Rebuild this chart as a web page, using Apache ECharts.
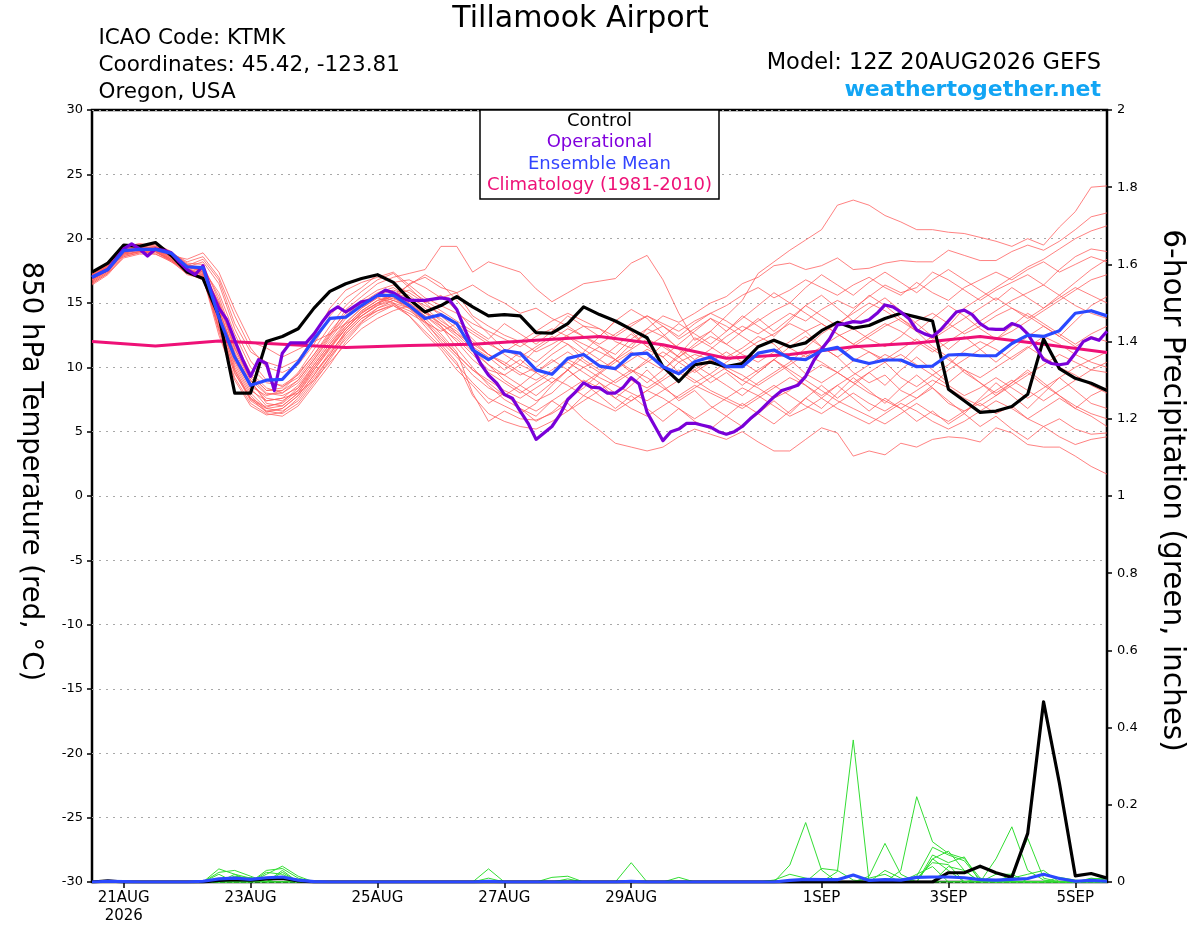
<!DOCTYPE html>
<html>
<head>
<meta charset="utf-8">
<title>Tillamook Airport</title>
<script src="https://cdn.jsdelivr.net/npm/echarts@6.0.0/dist/echarts.min.js"></script>
<style>
html, body { margin: 0; padding: 0; background: #fff; }
#main { width: 1200px; height: 927px; }
</style>
</head>
<body>
<div id="main"></div>
<script>
// hours after 12Z 20AUG2026, one value every 6 h (operational every 3 h, climatology daily)
var tickHours = [12, 60, 108, 156, 204, 276, 324, 372];
var tickLabels = ['21AUG\n2026', '23AUG', '25AUG', '27AUG', '29AUG', '1SEP', '3SEP', '5SEP'];

// 850 hPa temperature, deg C
var controlT = [17.4,18.1,19.5,19.4,19.7,18.7,17.4,16.9,
  14.0,8.0,8.0,12.0,12.4,13.0,14.6,15.9,
  16.5,16.9,17.2,16.6,15.3,14.3,14.8,15.5,
  14.7,14.0,14.1,14.0,12.7,12.65,13.4,14.7,
  14.1,13.6,12.95,12.3,10.05,8.9,10.2,10.4,
  10.05,10.3,11.6,12.1,11.6,11.9,12.85,13.5,
  13.05,13.25,13.8,14.2,13.9,13.6,8.3,7.4,
  6.5,6.6,6.95,7.9,12.2,9.9,9.15,8.76,
  8.2];

var operationalT = [17.0,17.3,17.6,18.4,19.2,19.6,19.2,18.65,
  19.2,19.1,18.9,18.2,17.6,17.2,17.9,16.0,
  14.6,13.7,12.1,10.6,9.3,10.6,10.3,8.2,
  11.1,11.9,11.9,11.9,12.6,13.5,14.3,14.7,
  14.3,14.7,15.1,15.2,15.6,16.0,15.8,15.4,
  15.2,15.2,15.2,15.3,15.4,15.3,14.5,13.0,
  11.5,10.3,9.4,8.8,7.9,7.6,6.6,5.65,
  4.4,4.9,5.4,6.3,7.5,8.1,8.8,8.45,
  8.4,8.0,8.0,8.45,9.2,8.7,6.5,5.4,
  4.3,5.0,5.2,5.65,5.65,5.5,5.35,5.0,
  4.8,5.0,5.4,6.0,6.5,7.1,7.7,8.2,
  8.4,8.6,9.3,10.5,11.4,12.2,13.3,13.4,
  13.55,13.5,13.7,14.2,14.85,14.7,14.3,13.8,
  12.9,12.6,12.4,12.9,13.6,14.3,14.45,14.1,
  13.4,13.0,12.95,12.95,13.4,13.2,12.6,11.6,
  10.6,10.3,10.2,10.3,11.1,12.0,12.3,12.1,
  12.8];

var meanT = [17.0,17.6,19.07,19.17,19.17,18.86,17.8,17.75,
  13.9,10.8,8.6,9.0,9.07,10.4,12.2,13.8,
  13.9,14.8,15.6,15.6,14.8,13.8,14.1,13.4,
  11.35,10.6,11.3,11.1,9.8,9.46,10.7,11.0,
  10.1,9.9,11.0,11.1,10.05,9.5,10.44,10.8,
  10.05,10.05,11.1,11.35,10.7,10.6,11.3,11.55,
  10.6,10.3,10.57,10.57,10.05,10.1,10.96,11.0,
  10.9,10.9,11.85,12.5,12.4,12.85,14.2,14.4,
  14.0];

var climatologyT = [12.0,11.65,12.05,11.8,11.55,11.7,11.8,12.1,12.4,
  11.75,10.7,11.0,11.6,11.9,12.4,11.8,11.15];

var memberT = [
 [16.8,17.6,18.8,19.0,19.1,18.5,17.8,18.2, 16.5,13.0,10.5,9.0,8.5,9.2,10.8,12.5,
  14.5,15.5,16.5,17.0,17.3,17.6,19.4,19.4, 17.4,18.2,17.8,17.4,16.1,15.1,15.8,16.5,
  16.7,16.9,18.1,18.7,16.8,14.2,12.1,12.8, 14.0,15.2,17.3,18.2,19.1,19.9,20.7,22.6,
  23.0,22.6,21.8,21.3,20.7,20.7,20.5,20.4, 20.1,19.8,19.4,20.0,19.5,20.9,22.1,24.0, 24.1],
 [17.2,18.0,19.2,19.4,19.0,18.3,17.5,17.0, 14.0,10.5,8.5,7.8,8.2,9.5,11.0,12.8,
  14.2,15.0,15.6,15.2,16.5,17.0,16.2,15.8, 14.0,13.2,12.5,12.0,11.2,11.8,12.5,13.2,
  13.0,12.0,11.5,13.0,14.0,13.5,14.2,15.0, 15.5,16.5,17.0,17.9,18.1,17.6,17.9,18.5,
  17.6,17.7,18.1,18.3,18.2,18.2,19.1,18.7, 18.3,18.3,19.0,19.5,19.1,19.8,20.7,21.7, 22.0],
 [16.6,17.4,18.9,19.1,19.3,18.8,18.0,17.4, 15.0,11.5,9.0,7.2,7.0,8.0,9.8,11.5,
  13.0,14.3,15.0,15.6,15.2,14.4,13.2,11.5, 10.0,8.6,7.5,6.8,5.8,6.5,7.6,8.4,
  9.5,10.4,11.2,10.5,9.8,11.0,12.3,11.6, 10.8,11.5,12.4,11.8,10.6,9.5,8.8,9.6,
  10.5,11.2,10.4,9.2,8.5,9.4,10.2,11.3, 12.0,11.4,10.6,11.5,12.4,11.8,11.0,10.4, 10.0],
 [16.9,17.7,18.7,19.0,18.9,18.4,17.3,16.8, 13.5,10.2,8.0,6.8,6.6,7.4,9.0,10.8,
  12.2,13.5,14.6,15.0,14.6,13.8,12.6,11.2, 8.0,5.8,6.6,6.0,5.9,6.4,7.2,6.0,
  5.1,4.1,3.8,3.5,3.8,4.6,5.2,4.8, 4.4,5.0,4.2,3.5,3.5,4.4,5.3,4.9,
  3.1,3.5,3.2,4.1,3.8,4.4,4.6,4.5, 4.2,5.3,4.9,4.0,3.8,3.8,3.1,2.3, 1.7],
 [17.3,18.2,19.4,19.6,19.5,18.9,18.2,18.6, 17.0,14.0,11.5,10.0,9.6,10.2,11.8,14.0,
  15.4,16.2,17.2,16.6,16.8,16.2,15.4,15.8, 16.4,15.6,15.0,14.2,14.6,13.8,13.2,12.4,
  11.6,11.0,12.2,13.0,12.4,11.5,10.6,11.4, 12.4,13.2,12.6,13.4,14.2,13.6,14.5,15.2,
  14.6,15.5,16.4,15.8,16.2,17.4,16.8,16.0, 15.2,16.0,16.6,17.2,16.4,17.6,18.6,19.2, 19.0],
 [16.7,17.5,19.1,19.3,19.0,18.2,17.6,17.2, 13.0,9.5,7.6,6.5,6.8,7.8,9.4,11.2,
  12.6,13.8,14.4,14.8,14.2,13.5,12.8,13.4, 12.2,11.0,10.2,9.4,10.0,11.0,11.8,11.0,
  10.2,9.8,10.6,11.4,10.8,9.6,8.8,9.5, 10.4,11.2,12.0,12.6,13.4,12.8,11.6,10.8,
  9.6,8.8,9.4,8.2,7.6,8.4,7.2,6.6, 7.2,6.4,7.0,6.0,5.4,6.0,5.2,4.8, 4.9],
 [17.1,17.9,18.6,18.9,19.0,18.7,18.4,18.9, 17.4,14.5,12.0,11.5,10.8,11.4,12.0,12.6,
  13.4,14.0,14.9,15.6,16.4,17.2,16.5,15.2, 13.8,12.6,11.4,10.8,11.6,12.4,11.8,10.6,
  9.8,10.6,11.8,12.6,13.2,12.2,13.0,13.8, 13.2,12.4,11.6,12.2,11.5,10.8,11.6,12.4,
  13.0,12.2,11.6,12.4,13.6,14.2,13.4,12.6, 13.2,14.0,14.6,14.0,13.2,12.4,13.6,14.8, 15.5],
 [16.5,17.3,18.5,18.8,18.8,18.3,17.4,17.0, 12.5,9.2,7.2,6.4,6.2,7.0,8.6,10.2,
  12.0,13.4,14.2,14.8,14.0,12.8,11.6,10.2, 8.8,7.6,7.0,6.4,7.2,8.6,9.8,11.2,
  12.4,13.6,14.5,13.8,12.6,11.4,10.2,9.4, 8.6,7.8,8.8,9.6,10.4,11.5,12.6,13.4,
  14.2,15.0,14.4,13.6,12.8,11.6,10.8,9.6, 8.8,8.0,8.8,9.6,8.6,7.8,7.0,6.4, 6.0],
 [17.0,17.8,19.0,19.2,19.4,18.8,17.9,17.8, 15.5,12.0,9.6,8.4,8.0,8.8,10.4,12.0,
  13.5,14.6,15.4,15.8,15.0,14.2,13.8,12.6, 11.4,10.2,9.0,8.2,7.4,8.0,9.2,10.0,
  10.6,9.8,9.0,8.4,9.2,10.4,11.0,10.6, 9.8,9.0,8.4,7.6,8.2,9.4,10.2,9.6,
  8.8,8.0,7.4,6.8,7.6,8.6,9.8,10.6, 11.4,12.2,12.8,13.6,14.4,15.2,16.0,16.8, 17.2],
 [16.8,17.6,19.2,19.5,19.2,18.6,17.8,17.5, 14.5,11.0,8.8,7.4,7.6,8.6,10.2,11.8,
  13.2,14.4,15.2,15.5,15.0,14.0,13.0,12.2, 11.0,9.8,9.4,10.2,11.4,12.2,13.0,12.4,
  11.8,12.6,13.4,14.0,13.2,12.4,13.4,14.2, 14.8,15.6,16.2,15.4,16.0,16.8,16.2,15.6,
  16.4,17.0,16.2,15.6,16.6,15.8,15.2,16.2, 16.8,17.4,16.8,17.6,18.2,17.4,18.0,18.6, 18.2],
 [17.2,18.0,19.3,19.1,19.2,18.5,17.6,17.3, 14.2,10.8,8.4,7.0,7.2,8.2,10.0,11.6,
  13.0,14.2,15.0,15.4,14.6,13.6,12.4,11.0, 9.8,9.0,8.2,7.6,8.4,9.2,8.6,7.8,
  7.2,6.6,7.4,8.2,7.6,6.8,6.0,6.8, 7.6,8.4,7.8,7.0,6.2,6.8,7.6,6.8,
  6.2,5.6,6.4,7.2,6.6,5.8,5.2,5.8, 6.6,7.4,6.8,6.0,6.8,7.6,6.8,6.2, 5.4],
 [16.6,17.4,18.8,19.3,19.6,19.0,18.0,17.6, 15.8,12.6,10.0,8.8,8.6,9.4,11.0,12.6,
  14.0,15.0,15.8,16.2,15.4,14.8,14.2,13.4, 12.6,11.8,11.2,12.0,12.8,13.6,14.2,13.6,
  13.0,12.4,13.2,14.0,13.4,12.8,13.6,14.2, 13.6,12.8,13.6,14.4,15.0,14.2,13.4,12.6,
  11.8,12.6,13.4,12.8,12.0,11.2,12.0,12.8, 13.6,14.4,15.2,15.8,16.4,15.6,14.8,14.2, 13.8],
 [17.0,17.9,19.1,19.4,19.3,18.6,17.5,17.0, 13.8,10.0,7.8,6.6,6.4,7.2,8.8,10.6,
  12.4,13.6,14.4,14.9,14.4,13.6,12.0,10.8, 9.4,8.4,7.8,7.2,6.6,7.4,8.2,9.0,
  8.4,7.6,6.8,6.2,7.0,7.8,8.6,8.0, 7.4,6.8,7.6,8.4,9.2,8.6,7.8,8.6,
  9.4,10.2,11.0,10.4,11.6,12.4,13.2,14.6, 15.4,16.2,17.0,17.8,18.4,19.2,20.0,20.6, 21.0],
 [17.4,18.1,19.0,19.2,19.1,18.4,17.9,18.4, 16.8,13.4,11.2,10.4,10.0,10.6,12.4,14.6,
  16.0,16.6,17.0,17.4,16.4,15.4,14.8,14.2, 13.4,12.8,12.2,11.6,12.4,13.0,12.4,11.8,
  11.2,10.6,11.4,12.2,11.6,10.8,11.6,12.4, 11.8,11.0,10.4,11.2,12.0,12.8,13.4,12.6,
  11.8,11.2,10.6,11.4,12.2,11.4,10.6,9.8, 9.2,10.0,10.8,11.6,10.8,10.0,9.4,8.6, 8.0],
 [16.9,17.7,18.9,19.1,19.2,18.7,17.7,17.1, 12.8,9.0,7.0,6.3,6.5,7.6,9.2,10.8,
  12.6,13.8,14.6,15.2,14.6,13.2,11.8,10.4, 7.8,6.4,5.8,5.4,5.2,5.8,6.6,7.4,
  8.2,9.0,9.8,9.2,8.4,7.6,8.4,9.2, 10.0,9.4,8.6,9.4,10.2,11.0,10.4,9.6,
  8.8,9.6,10.4,11.0,10.2,9.4,8.6,7.8, 8.4,9.2,8.4,7.6,8.4,9.2,10.0,10.6, 11.2],
 [17.1,17.9,19.4,19.6,19.4,18.8,17.9,17.4, 14.8,11.4,9.2,8.0,7.8,8.4,10.0,11.6,
  13.2,14.4,15.2,15.6,16.0,15.2,14.4,13.6, 12.8,12.0,11.0,10.2,9.6,10.4,11.2,10.4,
  9.6,8.8,9.6,10.4,11.2,10.4,9.6,10.4, 11.2,10.4,9.6,10.6,11.6,12.4,11.6,10.8,
  11.6,12.4,13.2,13.8,13.0,12.2,13.0,13.8, 14.6,15.4,14.6,13.8,14.6,15.4,16.2,15.6, 15.0],
 [16.4,17.2,18.6,18.9,19.0,18.3,17.2,16.9, 13.2,9.8,7.5,6.8,7.0,8.0,9.6,11.0,
  12.8,14.0,14.8,15.2,14.8,14.0,13.2,12.0, 10.6,9.6,8.8,8.0,8.8,9.6,10.4,9.6,
  8.8,8.0,7.4,8.2,9.0,9.8,9.0,8.2, 7.6,7.0,7.8,8.6,7.8,7.0,6.4,7.2,
  8.0,7.2,6.6,7.4,8.2,9.0,8.4,7.6, 7.0,7.8,8.6,9.4,10.2,11.0,10.4,9.8, 9.6],
 [17.2,17.9,18.8,19.0,18.8,18.2,17.3,17.1, 13.6,10.4,8.2,7.4,7.6,8.0,9.0,10.4,
  11.8,13.0,13.8,14.4,14.8,14.2,13.4,12.6, 11.8,11.0,10.4,9.6,9.0,9.8,10.6,10.0,
  9.2,8.6,8.0,7.4,8.2,9.0,9.8,10.6, 9.8,9.0,9.8,10.6,9.8,9.0,8.2,7.4,
  6.8,6.2,5.6,6.4,7.2,6.4,5.8,6.6, 7.4,8.2,9.0,8.2,7.4,8.2,9.0,9.8, 10.4],
 [17.0,17.8,19.3,19.5,19.4,18.9,18.1,18.0, 15.2,11.8,9.4,8.2,8.4,9.6,11.4,13.2,
  14.8,15.9,16.8,17.3,16.2,15.0,15.6,14.4, 13.0,12.2,13.4,12.6,11.8,12.8,14.0,13.2,
  12.4,13.6,12.8,11.6,12.4,13.4,12.6,11.8, 12.8,14.0,13.2,12.4,13.6,14.8,14.0,13.2,
  14.4,15.6,14.8,13.8,12.8,13.8,14.8,14.0, 13.0,12.2,13.2,14.2,13.4,12.6,11.8,12.6, 13.2],
 [16.7,17.5,18.9,19.2,19.1,18.4,17.5,17.2, 13.4,9.8,7.6,6.9,7.3,8.4,10.2,11.8,
  13.4,14.6,15.4,15.0,14.0,12.6,11.4,9.8, 8.6,7.2,8.0,6.8,6.2,7.4,6.6,7.8,
  8.8,7.6,8.6,9.8,8.6,7.4,8.2,7.0, 6.2,7.2,6.4,5.6,6.6,7.6,6.8,8.0,
  9.2,8.2,7.2,8.4,9.4,8.4,7.4,6.4, 7.6,8.8,7.8,6.8,8.0,9.2,8.2,7.2, 6.8],
 [17.1,17.8,19.0,19.3,19.2,18.6,17.7,17.3, 14.4,11.2,9.0,7.9,8.0,9.0,10.6,12.2,
  13.8,14.8,15.6,16.0,15.6,14.6,13.6,12.8, 11.6,10.8,9.8,10.6,9.6,8.8,9.8,10.8,
  11.6,10.6,9.6,10.6,11.8,10.8,11.8,12.8, 11.8,12.8,13.8,12.8,13.8,14.8,15.6,14.6,
  13.6,14.6,15.4,14.4,13.4,12.4,11.4,12.4, 11.4,10.4,11.4,12.4,13.2,12.4,11.6,12.4, 12.0],
 [16.5,17.3,18.7,19.0,19.0,18.4,17.4,17.0, 13.0,9.6,7.4,6.6,6.8,7.8,9.4,11.0,
  12.8,14.0,14.8,15.4,14.8,13.4,12.2,11.0, 9.8,8.8,7.8,8.6,7.8,8.8,9.8,8.8,
  7.8,6.8,7.8,6.8,5.8,6.8,5.8,5.2, 6.2,5.4,6.4,7.4,6.4,7.6,8.6,7.6,
  8.6,9.6,8.6,9.8,10.8,9.8,8.8,9.8, 8.8,7.8,8.8,9.8,8.8,7.8,6.8,7.8, 8.4],
 [17.3,18.0,19.1,19.3,19.3,18.7,17.8,17.6, 15.0,11.6,9.4,8.2,8.2,9.0,10.6,12.4,
  14.0,15.2,16.0,16.4,15.8,15.0,14.0,13.0, 12.0,11.0,10.2,11.2,10.4,11.4,12.4,11.4,
  10.6,11.6,12.6,11.6,10.8,11.8,12.8,13.8, 12.8,13.8,14.8,15.8,15.0,16.2,17.2,16.4,
  15.6,16.6,17.4,16.6,15.8,16.8,17.6,16.8, 16.0,15.2,16.2,15.4,14.6,15.6,16.6,17.6, 18.4],
 [16.8,17.5,18.9,19.2,19.2,18.6,17.8,17.4, 14.6,11.0,8.8,7.6,7.4,8.2,9.8,11.4,
  13.0,14.2,15.0,15.8,15.4,14.4,13.4,12.4, 11.2,10.2,9.4,8.6,9.6,10.6,9.8,8.8,
  9.6,10.6,9.8,8.8,9.8,10.8,9.8,8.8, 9.6,8.6,9.6,10.6,9.6,8.6,7.6,8.6,
  7.6,6.6,7.6,6.8,5.8,6.6,5.6,6.4, 5.4,6.2,5.2,4.4,5.4,4.6,4.0,4.4, 4.6]
];

// 6-hour precipitation, inches
var controlP = [0,0.003,0,0,0,0,0,0, 0.004,0.006,0.005,0.008,0.01,0.003,0,0,
  0,0,0,0,0,0,0,0, 0,0,0,0,0,0,0,0, 0,0,0,0,0,0,0,0, 0,0,0,0,0,0,0,0,
  0,0,0,0,0,0,0.024,0.024, 0.041,0.024,0.012,0.126,0.467,0.256,0.016,0.022, 0.01];
var meanP = [0,0.002,0.001,0,0,0,0,0.002, 0.008,0.01,0.007,0.011,0.013,0.005,0.001,0,
  0,0,0,0,0,0,0,0, 0,0.002,0,0,0,0,0,0, 0,0,0.002,0,0,0,0,0, 0,0,0,0,0.004,0.007,0.006,0.006,
  0.018,0.004,0.006,0.005,0.012,0.013,0.013,0.011, 0.006,0.005,0.007,0.009,0.02,0.009,0.002,0.004, 0.002];
var memberP = [
 [0,0,0,0,0,0,0,0, .034,.02,.01,0,0,0,0,0, 0,0,0,0,0,0,0,0, 0,0,0,0,0,0,0,0,
  0,0,0,0,0,0,0,0, 0,0,0,0,.044,.154,.031,0, 0,0,0,0,.02,.04,0,0, 0,0,0,0,0,0,0,0, 0],
 [0,0,0,0,0,0,0,0, 0,0,0,.02,.041,.015,0,0, 0,0,0,0,0,0,0,0, 0,0,0,0,0,0,0,0,
  0,0,0,0,0,0,0,0, 0,0,0,0,0,0,0,.027, .368,0,0,0,0,.06,.03,0, 0,0,0,0,0,0,0,0, 0],
 [0,0,0,0,0,0,0,0, .025,.03,.015,0,0,0,0,0, 0,0,0,0,0,0,0,0, 0,.034,0,0,0,0,0,0,
  0,0,0,0,0,0,0,0, 0,0,0,0,0,0,0,0, 0,.015,.1,.02,0,0,0,0, .01,0,0,0,0,0,0,0, 0],
 [0,0,0,0,0,0,0,0, 0,0,0,.03,.035,.01,0,0, 0,0,0,0,0,0,0,0, 0,0,0,0,0,0,0,0,
  0,0,.05,0,0,0,0,0, 0,0,0,0,0,0,0,0, 0,0,0,.03,.221,.104,.074,.061, .01,0,0,0,0,0,0,0, 0],
 [0,0,0,0,0,0,0,0, 0,.015,.01,0,.03,0,0,0, 0,0,0,0,0,0,0,0, 0,0,0,0,0,.012,.015,0,
  0,0,0,0,0,0,0,0, 0,0,0,0,0,0,0,0, 0,0,0,0,.015,.09,.07,.055, .005,0,0,0,0,0,0,0, 0],
 [0,0,0,0,0,0,0,0, .02,0,0,.025,.02,0,0,0, 0,0,0,0,0,0,0,0, 0,0,0,0,0,0,0,0,
  0,0,0,0,0,0,0,0, 0,0,0,0,0,0,.035,.03, .005,0,0,0,0,.06,.08,.03, 0,.06,.143,.03,.005,0,0,0, 0],
 [0,0,0,0,0,0,0,0, 0,0,0,0,.025,0,0,0, 0,0,0,0,0,0,0,0, 0,0,0,0,0,0,0,0,
  0,0,0,0,0,.012,0,0, 0,0,0,0,0,0,0,0, 0,0,0,0,0,0,0,0, 0,0,.02,.113,.01,0,0,.01, .005],
 [0,0,0,0,0,0,0,0, 0,.02,0,0,0,0,0,0, 0,0,0,0,0,0,0,0, 0,.01,0,0,0,0,0,0,
  0,0,0,0,0,0,0,0, 0,0,0,0,0,0,0,0, 0,0,.03,.01,0,.07,.05,.065, 0,.02,.02,0,0,0,0,0, 0],
 [0,0,0,0,0,0,0,0, 0,0,.012,0,0,0,0,0, 0,0,0,0,0,0,0,0, 0,0,0,0,0,0,.008,0,
  0,0,0,0,0,0,0,0, 0,0,0,.005,.02,.01,0,0, 0,0,0,0,0,0,.04,.03, 0,0,0,0,0,.012,.005,0, 0],
 [0,0,0,0,0,0,0,0, 0,0,0,0,.015,0,0,0, 0,0,0,0,0,0,0,0, 0,0,0,0,0,0,0,0,
  0,0,0,0,0,0,0,0, 0,0,0,0,0,0,0,0, 0,.01,.02,0,.01,.05,.045,0, 0,0,.01,.02,.03,0,0,.008, .01]
];

var FONT = '"DejaVu Sans", sans-serif';

function toPairs(values, step) {
	return values.map(function (v, i) { return [i * step, v]; });
}

function lineSeries(values, step, axis, color, width, z) {
	return {
		type: 'line',
		data: toPairs(values, step),
		yAxisIndex: axis,
		symbol: 'none',
		silent: true,
		z: z,
		lineStyle: { color: color, width: width, join: 'round' }
	};
}

var series = [];
memberT.forEach(function (m) {
	var s = lineSeries(m, 6, 0, '#ff5a5a', 0.9, 2);
	s.lineStyle.opacity = 0.85;
	series.push(s);
});
memberP.forEach(function (m) {
	series.push(lineSeries(m, 6, 1, '#33dd33', 1, 3));
});
series.push(lineSeries(climatologyT, 24, 0, '#ee1177', 3, 4));
series.push(lineSeries(controlT, 6, 0, '#000000', 3.2, 5));
series.push(lineSeries(operationalT, 3, 0, '#7a00d8', 3.2, 6));
series.push(lineSeries(meanT, 6, 0, '#2a48ff', 3.2, 7));
series.push(lineSeries(controlP, 6, 1, '#000000', 3.2, 5));
series.push(lineSeries(meanP, 6, 1, '#2a48ff', 3.2, 7));

function text(x, y, str, font, color, align, extra) {
	var el = {
		type: 'text',
		x: x,
		y: y,
		z: 100,
		style: {
			text: str,
			font: font + ' ' + FONT,
			fill: color,
			textAlign: align,
			textVerticalAlign: 'middle'
		}
	};
	if (extra) {
		for (var k in extra) el[k] = extra[k];
	}
	return el;
}

var myChart = echarts.init(document.getElementById('main'), null, { renderer: 'canvas' });
var option = {
	animation: false,
	backgroundColor: '#fff',
	grid: {
		left: 92, right: 93, top: 110, bottom: 45,
		show: true, borderColor: '#000', borderWidth: 2.5
	},
	xAxis: {
		type: 'value',
		min: 0,
		max: 384,
		axisLine: { show: false, onZero: false },
		splitLine: { show: false },
		axisTick: {
			show: true, customValues: tickHours, length: 6,
			lineStyle: { color: '#000', width: 1.5 }
		},
		axisLabel: {
			customValues: tickHours,
			margin: 7,
			color: '#000',
			fontFamily: FONT,
			fontSize: 15,
			lineHeight: 18,
			formatter: function (v) {
				var i = tickHours.indexOf(v);
				return i >= 0 ? tickLabels[i] : '';
			}
		}
	},
	yAxis: [{
		type: 'value',
		min: -30,
		max: 30,
		interval: 5,
		position: 'left',
		axisLine: { show: false, onZero: false },
		axisTick: { show: true, length: 5, lineStyle: { color: '#000', width: 1.5 } },
		axisLabel: { margin: 9, color: '#000', fontFamily: FONT, fontSize: 13 },
		splitLine: { show: true, lineStyle: { color: '#a8a8a8', width: 1, type: [2, 5] } }
	}, {
		type: 'value',
		min: 0,
		max: 2,
		interval: 0.2,
		position: 'right',
		axisLine: { show: false, onZero: false },
		axisTick: { show: true, length: 5, lineStyle: { color: '#000', width: 1.5 } },
		axisLabel: {
			margin: 10, color: '#000', fontFamily: FONT, fontSize: 13,
			formatter: function (v) { return String(Math.round(v * 10) / 10); }
		},
		splitLine: { show: false }
	}],
	graphic: [
		text(580.5, 19, 'Tillamook Airport', '30px', '#000', 'center'),
		text(98.5, 38.5, 'ICAO Code: KTMK', '21.5px', '#000', 'left'),
		text(98.5, 65.5, 'Coordinates: 45.42, -123.81', '21.5px', '#000', 'left'),
		text(98.5, 92, 'Oregon, USA', '21.5px', '#000', 'left'),
		text(1101, 63.5, 'Model: 12Z 20AUG2026 GEFS', '22.5px', '#000', 'right'),
		text(1101, 90.5, 'weathertogether.net', 'bold 22px', '#12a5f4', 'right'),
		{
			type: 'rect', z: 99,
			shape: { x: 480, y: 110, width: 239, height: 89 },
			style: { fill: '#fff', stroke: '#000', lineWidth: 1.5 }
		},
		text(599.5, 121.5, 'Control', '18px', '#000', 'center'),
		text(599.5, 142.5, 'Operational', '18px', '#8000dd', 'center'),
		text(599.5, 164, 'Ensemble Mean', '18px', '#3344ff', 'center'),
		text(599.5, 185.5, 'Climatology (1981-2010)', '18px', '#ee1177', 'center'),
		text(30.5, 471.5, '850 hPa Temperature (red, °C)', '27.5px', '#000', 'center', { rotation: -Math.PI / 2 }),
		text(1172, 490.5, '6-hour Precipitation (green, inches)', '29.5px', '#000', 'center', { rotation: -Math.PI / 2 })
	],
	series: series
};
myChart.setOption(option);
</script>
</body>
</html>
